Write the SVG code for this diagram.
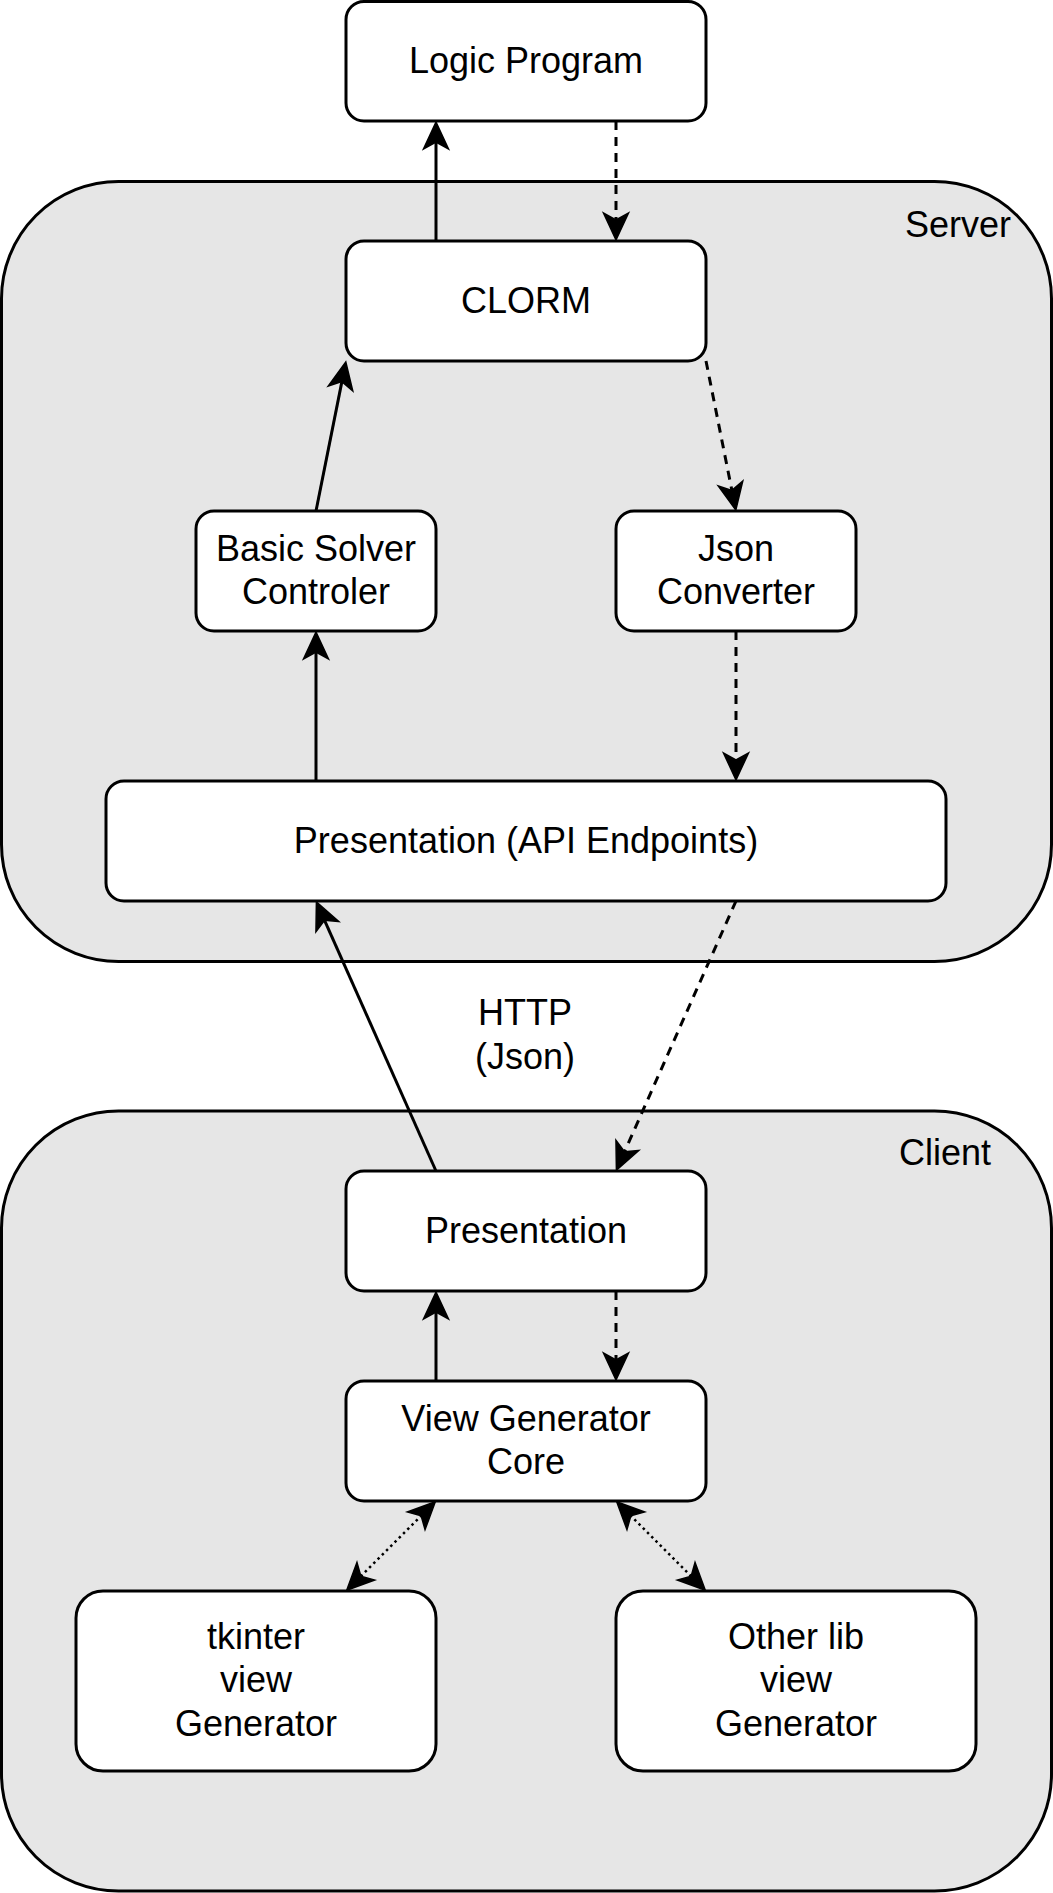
<svg xmlns="http://www.w3.org/2000/svg" width="1053" height="1893" viewBox="0 0 1053 1893">
  <style>
    .container { fill: #E6E6E6; stroke: #000; stroke-width: 3; }
    .box { fill: #FFFFFF; stroke: #000; stroke-width: 3; }
    .label { font-family: "Liberation Sans", Arial, Helvetica, sans-serif; font-size: 36px; fill: #000; text-anchor: middle; }
    .edge { fill: none; stroke: #000; stroke-width: 3; }
    .dashed { stroke-dasharray: 9 7; }
    .dotted { stroke-width: 2.5; stroke-dasharray: 2.5 3.5; }
  </style>
  <defs>
    <marker id="arrow" markerUnits="userSpaceOnUse" viewBox="-34 -18 38 36" markerWidth="38" markerHeight="36" refX="-20" refY="0" orient="auto-start-reverse">
      <path d="M-1,0 L-28,-12.5 L-21,0 L-28,12.5 Z" fill="#000" stroke="#000" stroke-width="1.5" stroke-linejoin="miter"/>
    </marker>
  </defs>

  <g id="server">
    <rect class="container" x="1.5" y="181.5" width="1050" height="780" rx="117" ry="117"/>
    <text class="label" x="958" y="237">Server</text>
  </g>
  <g id="client">
    <rect class="container" x="1.5" y="1111" width="1050" height="780" rx="117" ry="117"/>
    <text class="label" x="945" y="1165">Client</text>
  </g>

  <g id="logic-program">
    <rect class="box" x="346" y="1.5" width="360" height="119.5" rx="18" ry="18"/>
    <text class="label" x="526" y="73">Logic Program</text>
  </g>
  <g id="clorm">
    <rect class="box" x="346" y="241" width="360" height="120" rx="18" ry="18"/>
    <text class="label" x="526" y="313">CLORM</text>
  </g>
  <g id="basic-solver">
    <rect class="box" x="196" y="511" width="240" height="120" rx="18" ry="18"/>
    <text class="label" x="316" y="561">Basic Solver</text>
    <text class="label" x="316" y="604">Controler</text>
  </g>
  <g id="json-converter">
    <rect class="box" x="616" y="511" width="240" height="120" rx="18" ry="18"/>
    <text class="label" x="736" y="561">Json</text>
    <text class="label" x="736" y="604">Converter</text>
  </g>
  <g id="presentation-api">
    <rect class="box" x="106" y="781" width="840" height="120" rx="18" ry="18"/>
    <text class="label" x="526" y="853">Presentation (API Endpoints)</text>
  </g>
  <g id="http-label">
    <text class="label" x="525" y="1025">HTTP</text>
    <text class="label" x="525" y="1069">(Json)</text>
  </g>
  <g id="presentation">
    <rect class="box" x="346" y="1171" width="360" height="120" rx="18" ry="18"/>
    <text class="label" x="526" y="1243">Presentation</text>
  </g>
  <g id="view-generator-core">
    <rect class="box" x="346" y="1381" width="360" height="120" rx="18" ry="18"/>
    <text class="label" x="526" y="1431">View Generator</text>
    <text class="label" x="526" y="1474">Core</text>
  </g>
  <g id="tkinter-view-generator">
    <rect class="box" x="76" y="1591" width="360" height="180" rx="27" ry="27"/>
    <text class="label" x="256" y="1649">tkinter</text>
    <text class="label" x="256" y="1692">view</text>
    <text class="label" x="256" y="1736">Generator</text>
  </g>
  <g id="other-lib-view-generator">
    <rect class="box" x="616" y="1591" width="360" height="180" rx="27" ry="27"/>
    <text class="label" x="796" y="1649">Other lib</text>
    <text class="label" x="796" y="1692">view</text>
    <text class="label" x="796" y="1736">Generator</text>
  </g>

  <g id="connectors">
    <line class="edge" x1="436" y1="241" x2="436" y2="141" marker-end="url(#arrow)"/>
    <line class="edge dashed" x1="616" y1="121" x2="616" y2="221" marker-end="url(#arrow)"/>
    <line class="edge" x1="316" y1="511" x2="342.08" y2="380.61" marker-end="url(#arrow)"/>
    <line class="edge dashed" x1="706" y1="361" x2="732.08" y2="491.39" marker-end="url(#arrow)"/>
    <line class="edge" x1="316" y1="781" x2="316" y2="651" marker-end="url(#arrow)"/>
    <line class="edge dashed" x1="736" y1="631" x2="736" y2="761" marker-end="url(#arrow)"/>
    <line class="edge" x1="436" y1="1171" x2="324.12" y2="919.28" marker-end="url(#arrow)"/>
    <line class="edge dashed" x1="736" y1="901" x2="624.12" y2="1152.72" marker-end="url(#arrow)"/>
    <line class="edge" x1="436" y1="1381" x2="436" y2="1311" marker-end="url(#arrow)"/>
    <line class="edge dashed" x1="616" y1="1291" x2="616" y2="1361" marker-end="url(#arrow)"/>
    <line class="edge dotted" x1="421.86" y1="1515.14" x2="360.14" y2="1576.86" marker-start="url(#arrow)" marker-end="url(#arrow)"/>
    <line class="edge dotted" x1="630.14" y1="1515.14" x2="691.86" y2="1576.86" marker-start="url(#arrow)" marker-end="url(#arrow)"/>
  </g>
</svg>
